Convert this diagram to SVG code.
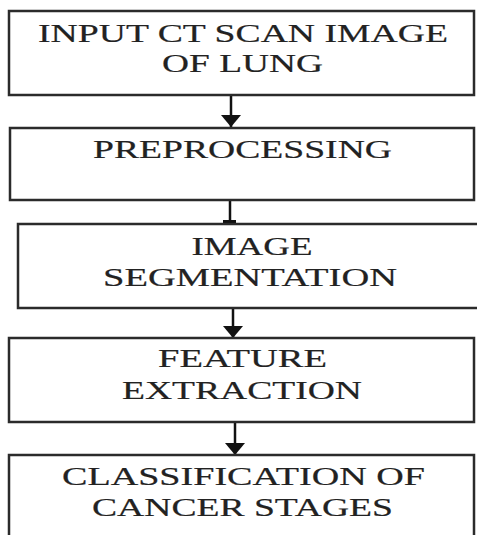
<svg xmlns="http://www.w3.org/2000/svg" width="477" height="535" viewBox="0 0 477 535">
<style>
.box{fill:#ffffff;stroke:#2b2b2b;stroke-width:2.5}
.lbl{font-family:"Liberation Serif","Times New Roman",serif;font-size:25px;fill:#222;stroke:#222;stroke-width:0.2;text-anchor:middle}
.con{stroke:#111;stroke-width:2.5;fill:none}
</style>
<defs>
<marker id="ah" markerUnits="userSpaceOnUse" markerWidth="12" markerHeight="20" refX="12" refY="10" orient="auto">
<path d="M0,0 L12,10 L0,20 Z" fill="#111"/>
</marker>
</defs>
<rect width="477" height="535" fill="#ffffff"/>
<g id="connectors">
<line class="con" x1="231" y1="96" x2="231" y2="127" marker-end="url(#ah)"/>
<line class="con" x1="230" y1="201" x2="230" y2="222"/>
<rect x="223" y="220" width="13" height="4" fill="#111"/>
<line class="con" x1="233" y1="309" x2="233" y2="338" marker-end="url(#ah)"/>
<line class="con" x1="235" y1="423" x2="235" y2="455" marker-end="url(#ah)"/>
</g>
<g id="n1">
<rect class="box" x="9" y="11" width="465" height="84"/>
<text class="lbl" x="243" y="42" textLength="410" lengthAdjust="spacingAndGlyphs">INPUT CT SCAN IMAGE</text>
<text class="lbl" x="242.5" y="72" textLength="161" lengthAdjust="spacingAndGlyphs">OF LUNG</text>
</g>
<g id="n2">
<rect class="box" x="10" y="128" width="464" height="72"/>
<text class="lbl" x="242.5" y="158" textLength="299" lengthAdjust="spacingAndGlyphs">PREPROCESSING</text>
</g>
<g id="n3">
<rect class="box" x="18" y="224" width="470" height="84"/>
<text class="lbl" x="252" y="255" textLength="121" lengthAdjust="spacingAndGlyphs">IMAGE</text>
<text class="lbl" x="250" y="286" textLength="294" lengthAdjust="spacingAndGlyphs">SEGMENTATION</text>
</g>
<g id="n4">
<rect class="box" x="9" y="338" width="465" height="84"/>
<text class="lbl" x="242.5" y="367" textLength="169" lengthAdjust="spacingAndGlyphs">FEATURE</text>
<text class="lbl" x="242" y="399" textLength="240" lengthAdjust="spacingAndGlyphs">EXTRACTION</text>
</g>
<g id="n5">
<rect class="box" x="9" y="455" width="465" height="95"/>
<text class="lbl" x="243.5" y="485" textLength="363" lengthAdjust="spacingAndGlyphs">CLASSIFICATION OF</text>
<text class="lbl" x="242.5" y="516" textLength="301" lengthAdjust="spacingAndGlyphs">CANCER STAGES</text>
</g>
</svg>
